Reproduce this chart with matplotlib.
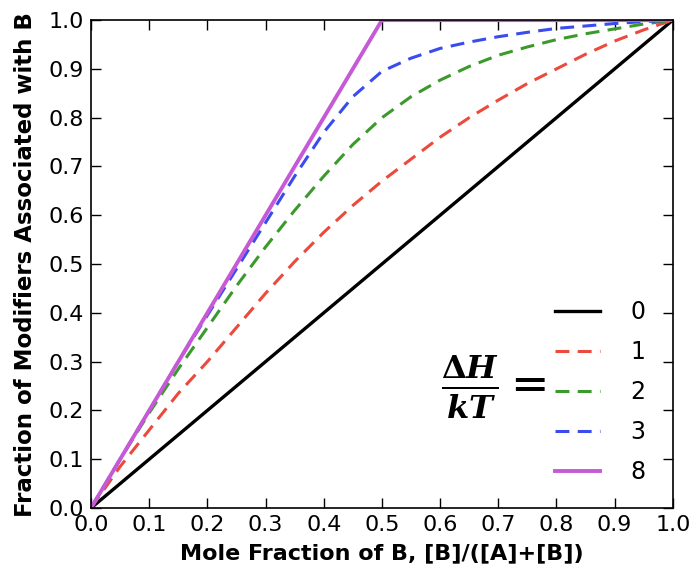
import matplotlib
matplotlib.use('Agg')
import matplotlib.pyplot as plt
import numpy as np

plt.rcParams['mathtext.fontset'] = 'dejavuserif'
plt.rcParams['lines.scale_dashes'] = False

# mole fraction of B
x = [0.0, 0.05, 0.1, 0.15, 0.2, 0.25, 0.3, 0.35, 0.4, 0.45, 0.5,
     0.55, 0.6, 0.65, 0.7, 0.75, 0.8, 0.85, 0.9, 0.95, 1.0]

# fraction of modifiers associated with B, for each dH/kT
y0 = [0.0, 0.05, 0.1, 0.15, 0.2, 0.25, 0.3, 0.35, 0.4, 0.45, 0.5,
      0.55, 0.6, 0.65, 0.7, 0.75, 0.8, 0.85, 0.9, 0.95, 1.0]
y1 = [0.0, 0.085, 0.16, 0.235, 0.30, 0.37, 0.44, 0.505, 0.565, 0.62, 0.67,
      0.715, 0.76, 0.80, 0.836, 0.87, 0.90, 0.93, 0.957, 0.98, 1.0]
y2 = [0.0, 0.10, 0.195, 0.285, 0.37, 0.455, 0.535, 0.61, 0.68, 0.745, 0.80,
      0.843, 0.877, 0.905, 0.928, 0.945, 0.96, 0.972, 0.982, 0.992, 1.0]
y3 = [0.0, 0.10, 0.20, 0.30, 0.395, 0.49, 0.585, 0.68, 0.77, 0.843, 0.895,
      0.922, 0.942, 0.955, 0.966, 0.975, 0.983, 0.988, 0.993, 0.997, 1.0]
y8 = [0.0, 0.1, 0.2, 0.3, 0.4, 0.5, 0.6, 0.7, 0.8, 0.9, 1.0,
      1.0, 1.0, 1.0, 1.0, 1.0, 1.0, 1.0, 1.0, 1.0, 1.0]

labels = ['0', '1', '2', '3', '8']
ticks = [0.0, 0.1, 0.2, 0.3, 0.4, 0.5, 0.6, 0.7, 0.8, 0.9, 1.0]

fig = plt.figure(figsize=(6.95, 5.75), dpi=100)
ax = fig.add_axes([0.131, 0.1165, 0.837, 0.8485])

ax.plot(x, y0, color='black', lw=2.4, label=labels[0])
ax.plot(x, y1, color='#ec4a3c', lw=2.2, dashes=(10, 6), label=labels[1])
ax.plot(x, y2, color='#3c9a2c', lw=2.2, dashes=(10, 6), label=labels[2])
ax.plot(x, y3, color='#3a4cf0', lw=2.2, dashes=(10, 6), label=labels[3])
ax.plot(x, y8, color='#c65ad6', lw=2.8, label=labels[4])

ax.set_xlim(0, 1)
ax.set_ylim(0, 1)
ax.set_xticks(ticks)
ax.set_yticks(ticks)
ax.tick_params(direction='in', top=True, right=True, length=7, width=1,
               labelsize=16, pad=5)
for s in ax.spines.values():
    s.set_linewidth(1.2)

ax.set_xlabel('Mole Fraction of B, [B]/([A]+[B])', fontsize=16, fontweight='bold',
              labelpad=6)
ax.set_ylabel('Fraction of Modifiers Associated with B', fontsize=16.5,
              fontweight='bold', labelpad=8)

leg = ax.legend(loc='lower right', bbox_to_anchor=(0.99, 0.005), frameon=False,
                fontsize=17, handlelength=1.9, labelspacing=0.68,
                handletextpad=1.3)

ax.text(0.602, 0.248, r'$\frac{\mathbf{\Delta}\mathbfit{H}}{\mathbfit{kT}}=$',
        fontsize=33, ha='left', va='center', transform=ax.transAxes)

fig.savefig('out.png', dpi=100)
